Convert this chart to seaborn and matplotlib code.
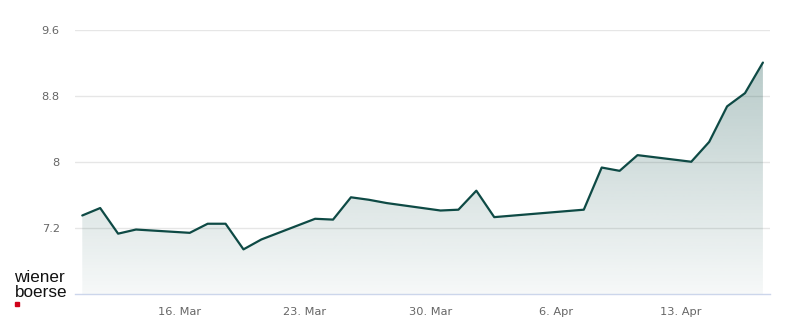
import numpy as np
import pandas as pd
import matplotlib
matplotlib.use("Agg")
import matplotlib.pyplot as plt
import matplotlib.dates as mdates
from matplotlib.colors import to_rgba
import seaborn as sns

# ---- data ----
dates = ["2026-03-10", "2026-03-11", "2026-03-12", "2026-03-13",
         "2026-03-16", "2026-03-17", "2026-03-18", "2026-03-19", "2026-03-20",
         "2026-03-23", "2026-03-24", "2026-03-25", "2026-03-26", "2026-03-27",
         "2026-03-30", "2026-03-31", "2026-04-01", "2026-04-02",
         "2026-04-07", "2026-04-08", "2026-04-09", "2026-04-10",
         "2026-04-13", "2026-04-14", "2026-04-15", "2026-04-16", "2026-04-17"]
prices = [7.35, 7.44, 7.13, 7.18,
          7.14, 7.25, 7.25, 6.94, 7.06,
          7.31, 7.30, 7.57, 7.54, 7.50,
          7.41, 7.42, 7.65, 7.33,
          7.42, 7.93, 7.89, 8.08,
          8.00, 8.24, 8.67, 8.83, 9.20]
ytick_vals = [7.2, 8.0, 8.8, 9.6]
ytick_labels = ["7.2", "8", "8.8", "9.6"]
xtick_dates = ["2026-03-16", "2026-03-23", "2026-03-30", "2026-04-06", "2026-04-13"]
xtick_labels = ["16. Mar", "23. Mar", "30. Mar", "6. Apr", "13. Apr"]

df = pd.DataFrame({"date": pd.to_datetime(dates) + pd.Timedelta(hours=13, minutes=45),
                   "price": prices})

sns.set_theme(style="white")
plt.rcParams["font.family"] = ["DejaVu Sans"]

fig = plt.figure(figsize=(8.0, 3.24), dpi=100)
ax = fig.add_axes([75 / 800, 30 / 324, 695 / 800, (294 - 29.5) / 324])

line_color = "#0e4a45"
ymin, ymax = 6.4, 9.6
xmin = pd.Timestamp("2026-03-10 04:00")
xmax = pd.Timestamp("2026-04-17 23:15")

# gradient fill under the line
xnum = mdates.date2num(df["date"])
r, g, b, _ = to_rgba("#1f5a55")
n = 256
alphas = np.linspace(0.36, 0.04, n)[:, None]
grad = np.zeros((n, 1, 4))
grad[..., 0] = r
grad[..., 1] = g
grad[..., 2] = b
grad[..., 3] = alphas
poly = ax.fill_between(xnum, prices, ymin, color="none", lw=0)
img = ax.imshow(grad, aspect="auto", origin="upper",
                extent=[xnum[0], xnum[-1], ymin, ymax], zorder=1)
clip_path = poly.get_paths()[0]
img.set_clip_path(clip_path, transform=ax.transData)

sns.lineplot(data=df, x="date", y="price", ax=ax, color=line_color,
             linewidth=1.6, zorder=3)

ax.set_xlim(xmin, xmax)
ax.set_ylim(ymin, ymax)

# grid
for yv in ytick_vals:
    ax.axhline(yv, color="#e6e6e6", lw=1.0, zorder=0)
ax.set_yticks(ytick_vals)
ax.set_yticklabels(ytick_labels)
ax.set_xticks(pd.to_datetime(xtick_dates))
ax.set_xticklabels(xtick_labels)
ax.tick_params(axis="y", length=0, pad=11, labelsize=8.2, labelcolor="#666666")
ax.tick_params(axis="x", length=7.2, width=0.9, color="#ccd6eb", pad=2,
               labelsize=8.2, labelcolor="#666666", direction="out")
ax.set_xlabel("")
ax.set_ylabel("")
for s in ["top", "right", "left"]:
    ax.spines[s].set_visible(False)
ax.spines["bottom"].set_color("#ccd6eb")
ax.spines["bottom"].set_linewidth(1.0)
ax.grid(False)

# logo
fig.text(14.5 / 800, 1 - 281.5 / 324, "wiener", fontsize=12.3, color="#111111",
         va="baseline", ha="left", family=["Liberation Sans"])
fig.text(14.5 / 800, 1 - 297 / 324, "boerse", fontsize=12.3, color="#111111",
         va="baseline", ha="left", family=["Liberation Sans"])
fig.patches.append(plt.Rectangle((15 / 800, 1 - 305.5 / 324), 4.3 / 800, 4 / 324,
                                 transform=fig.transFigure, color="#d0021b",
                                 figure=fig))

fig.savefig("out.png", dpi=100)
